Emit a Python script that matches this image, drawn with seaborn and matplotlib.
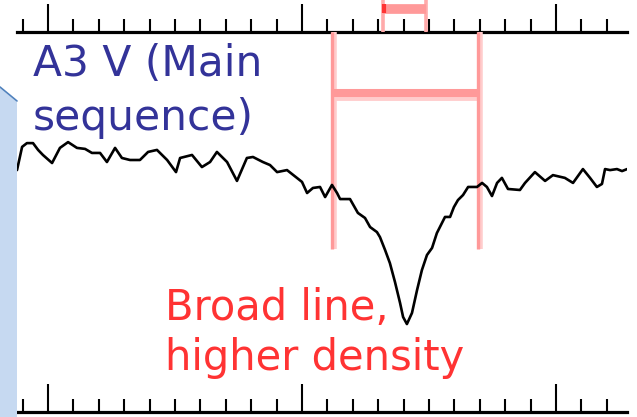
import matplotlib
matplotlib.use("Agg")
import matplotlib.pyplot as plt
from matplotlib.ticker import FixedLocator, NullFormatter
from matplotlib.patches import Polygon
import seaborn as sns
import pandas as pd

# ---- data (wavelength in tick units, normalised flux) ----
wavelength = [-1.22, -1.02, -0.83, -0.59, -0.39, -0.20, 0.16, 0.47, 0.79, 1.14,
              1.46, 1.73, 2.05, 2.32, 2.64, 2.91, 3.23, 3.62, 3.94, 4.29,
              4.69, 5.04, 5.20, 5.67, 6.06, 6.38, 6.65, 7.05, 7.44, 7.83,
              8.07, 8.46, 8.74, 9.02, 9.41, 9.80, 10.00, 10.20, 10.43, 10.71,
              10.91, 11.18, 11.38, 11.50, 11.89, 12.20, 12.48, 12.68, 12.95, 13.07,
              13.27, 13.46, 13.66, 13.86, 13.98, 14.13, 14.33, 14.53, 14.72, 14.92,
              15.12, 15.31, 15.51, 15.63, 15.83, 15.98, 16.14, 16.34, 16.54, 16.89,
              17.09, 17.28, 17.48, 17.68, 17.87, 18.11, 18.58, 18.78, 19.17, 19.57,
              19.88, 20.35, 20.67, 21.06, 21.34, 21.61, 21.81, 21.93, 22.13, 22.40,
              22.60, 22.80]
flux = [0.960, 1.052, 1.067, 1.067, 1.040, 1.020, 0.988, 1.048, 1.071, 1.048,
        1.044, 1.028, 1.028, 0.992, 1.048, 1.008, 1.000, 1.000, 1.032, 1.040,
        1.000, 0.952, 1.008, 1.020, 0.972, 0.992, 1.032, 0.992, 0.917, 1.008,
        1.012, 0.992, 0.980, 0.952, 0.960, 0.929, 0.913, 0.869, 0.889, 0.893,
        0.853, 0.901, 0.869, 0.845, 0.845, 0.790, 0.770, 0.734, 0.714, 0.694,
        0.643, 0.591, 0.516, 0.433, 0.377, 0.349, 0.393, 0.484, 0.563, 0.623,
        0.651, 0.710, 0.750, 0.774, 0.774, 0.813, 0.841, 0.861, 0.893, 0.893,
        0.909, 0.893, 0.857, 0.909, 0.929, 0.885, 0.881, 0.909, 0.952, 0.917,
        0.940, 0.929, 0.909, 0.964, 0.929, 0.893, 0.905, 0.964, 0.960, 0.964,
        0.956, 0.964]

major_ticks = [0, 10, 20]
minor_ticks = list(range(-1, 23))

line_width_bounds = [11.18, 16.93]     # broad-line width marker
line_width_y = 1.266
marker_bottom = 0.647
prev_width_bounds = [13.19, 14.88]     # narrow-line marker of panel above
prev_width_y = 1.601

label_star = ["A3 V (Main", "sequence)"]
label_line = ["Broad line,", "higher density"]

# ---- figure ----
sns.set_theme(style="white")
plt.rcParams["font.family"] = ["DejaVu Sans"]

W, H = 637, 417
fig = plt.figure(figsize=(W / 100, H / 100), dpi=100)
fig.patch.set_facecolor("white")

def fx(px):
    return px / W

def fy(py):
    return 1 - py / H

ax = fig.add_axes([fx(17), fy(412), fx(627) - fx(17), fy(32) - fy(412)])
ax.set_facecolor("none")

ytop = 380 / 252
ax.set_xlim((17 - 48) / 25.4, (627 - 48) / 25.4)
ax.set_ylim(0, ytop)

df = pd.DataFrame({"wavelength": wavelength, "flux": flux})
sns.lineplot(data=df, x="wavelength", y="flux", color="black", linewidth=1.9,
             sort=False, estimator=None, ax=ax, zorder=3)

# pink width markers for the broad line
for xb in line_width_bounds:
    ax.plot([xb + 0.07, xb + 0.07], [marker_bottom, ytop], color="#FFCCCC",
            linewidth=4.0, solid_capstyle="butt", zorder=1)
    ax.plot([xb, xb], [marker_bottom, ytop], color="#FF9999",
            linewidth=2.4, solid_capstyle="butt", zorder=1.5)
ax.plot(line_width_bounds, [line_width_y - 0.008] * 2, color="#FFCCCC",
        linewidth=8.5, solid_capstyle="butt", zorder=1)
ax.plot(line_width_bounds, [line_width_y] * 2, color="#FF9999",
        linewidth=5.8, solid_capstyle="butt", zorder=1.5)

# marker of the panel above (outside the axes)
for xb in prev_width_bounds:
    ax.plot([xb, xb], [ytop, 1.64], color="#FFAAAA", linewidth=2.6,
            solid_capstyle="butt", clip_on=False, zorder=1)
ax.plot(prev_width_bounds, [prev_width_y] * 2, color="#FF9999", linewidth=7.0,
        solid_capstyle="butt", clip_on=False, zorder=1.5)
ax.plot([prev_width_bounds[0] + 0.05] * 2, [prev_width_y - 0.018, prev_width_y + 0.018],
        color="#FF3333", linewidth=3, solid_capstyle="butt", clip_on=False, zorder=2)

# axes styling
ax.set_xlabel("")
ax.set_ylabel("")
ax.set_yticks([])
for s in ["left", "right", "top"]:
    ax.spines[s].set_visible(False)
ax.spines["bottom"].set_linewidth(2.3)
ax.spines["bottom"].set_color("black")
ax.xaxis.set_major_locator(FixedLocator(major_ticks))
ax.xaxis.set_minor_locator(FixedLocator(minor_ticks))
ax.xaxis.set_major_formatter(NullFormatter())
ax.tick_params(axis="x", which="major", direction="in", length=20.2, width=1.5,
               color="black", bottom=True, top=False, labelbottom=False)
ax.tick_params(axis="x", which="minor", direction="in", length=9.4, width=1.5,
               color="black", bottom=True, top=False)

sec = ax.secondary_xaxis("top")
sec.xaxis.set_major_locator(FixedLocator(major_ticks))
sec.xaxis.set_minor_locator(FixedLocator(minor_ticks))
sec.xaxis.set_major_formatter(NullFormatter())
sec.spines["top"].set_linewidth(2.3)
sec.spines["top"].set_color("black")
sec.tick_params(axis="x", which="major", direction="out", length=20.2, width=1.5,
                color="black", labeltop=False)
sec.tick_params(axis="x", which="minor", direction="out", length=9.4, width=1.5,
                color="black")

# blue panel at left edge
poly = Polygon([(fx(0), fy(88)), (fx(17), fy(102)), (fx(17), fy(417)), (fx(0), fy(417))],
               closed=True, transform=fig.transFigure, facecolor="#C6D9F1",
               edgecolor="none", zorder=0)
fig.patches.append(poly)
fig.add_artist(plt.Line2D([fx(0), fx(17)], [fy(87), fy(101)], transform=fig.transFigure,
                          color="#4F81BD", linewidth=1.2))

# texts
fig.text(fx(33), fy(76), label_star[0], color="#333399", fontsize=30.5, va="baseline")
fig.text(fx(33), fy(130), label_star[1], color="#333399", fontsize=30.5, va="baseline")
fig.text(fx(165), fy(320), label_line[0], color="#FF3333", fontsize=30, va="baseline")
fig.text(fx(165), fy(370), label_line[1], color="#FF3333", fontsize=30, va="baseline")

fig.savefig("out.png", dpi=100, facecolor="white")
